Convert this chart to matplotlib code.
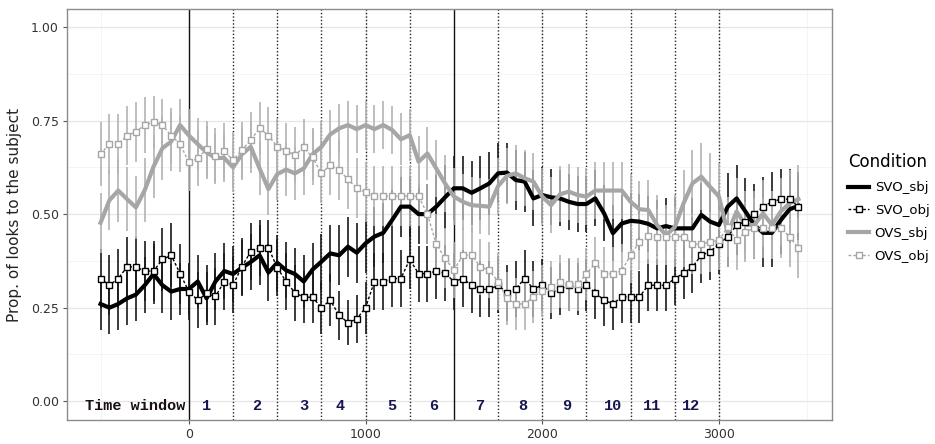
import matplotlib.pyplot as plt
import numpy as np
from matplotlib.lines import Line2D

# time bins (ms)
time = np.arange(-500, 3451, 50)

svo_sbj = [0.26, 0.25, 0.26, 0.275, 0.285, 0.31, 0.34, 0.31, 0.293, 0.30,
           0.30, 0.32, 0.275, 0.32, 0.348, 0.34, 0.357, 0.372, 0.39, 0.344,
           0.37, 0.35, 0.34, 0.32, 0.352, 0.373, 0.395, 0.39, 0.413, 0.397,
           0.422, 0.44, 0.45, 0.484, 0.52, 0.52, 0.50, 0.50, 0.52, 0.545,
           0.569, 0.569, 0.557, 0.569, 0.582, 0.609, 0.611, 0.591, 0.587, 0.542,
           0.551, 0.545, 0.542, 0.533, 0.527, 0.527, 0.542, 0.502, 0.449, 0.475,
           0.482, 0.48, 0.474, 0.462, 0.468, 0.462, 0.462, 0.462, 0.498, 0.48,
           0.471, 0.52, 0.542, 0.507, 0.471, 0.45, 0.45, 0.484, 0.513, 0.522]
svo_obj = [0.328, 0.31, 0.328, 0.359, 0.359, 0.348, 0.348, 0.379, 0.39, 0.341,
           0.293, 0.27, 0.288, 0.28, 0.32, 0.31, 0.36, 0.40, 0.41, 0.41,
           0.357, 0.32, 0.29, 0.278, 0.278, 0.25, 0.27, 0.23, 0.21, 0.22,
           0.25, 0.32, 0.32, 0.328, 0.328, 0.379, 0.341, 0.341, 0.348, 0.342,
           0.32, 0.328, 0.31, 0.299, 0.299, 0.31, 0.29, 0.30, 0.328, 0.30,
           0.31, 0.29, 0.30, 0.31, 0.30, 0.31, 0.29, 0.27, 0.26, 0.279,
           0.279, 0.279, 0.31, 0.31, 0.31, 0.328, 0.342, 0.359, 0.39, 0.40,
           0.42, 0.44, 0.471, 0.48, 0.50, 0.52, 0.533, 0.54, 0.54, 0.52]
ovs_sbj = [0.477, 0.537, 0.563, 0.54, 0.518, 0.564, 0.627, 0.676, 0.694, 0.738,
           0.71, 0.687, 0.665, 0.65, 0.65, 0.625, 0.66, 0.68, 0.622, 0.567,
           0.607, 0.619, 0.609, 0.622, 0.66, 0.68, 0.713, 0.729, 0.738, 0.727,
           0.738, 0.727, 0.738, 0.725, 0.70, 0.711, 0.64, 0.662, 0.622, 0.582,
           0.547, 0.533, 0.524, 0.522, 0.52, 0.575, 0.602, 0.609, 0.596, 0.587,
           0.547, 0.524, 0.553, 0.56, 0.551, 0.547, 0.563, 0.563, 0.563, 0.563,
           0.533, 0.513, 0.511, 0.471, 0.444, 0.465, 0.529, 0.582, 0.60, 0.573,
           0.547, 0.449, 0.507, 0.471, 0.471, 0.502, 0.471, 0.507, 0.529, 0.54]
ovs_obj = [0.66, 0.688, 0.688, 0.71, 0.72, 0.738, 0.746, 0.738, 0.709, 0.688,
           0.638, 0.649, 0.674, 0.656, 0.668, 0.644, 0.671, 0.698, 0.729, 0.71,
           0.68, 0.669, 0.658, 0.678, 0.652, 0.609, 0.631, 0.618, 0.593, 0.569,
           0.558, 0.548, 0.548, 0.548, 0.548, 0.548, 0.548, 0.50, 0.42, 0.382,
           0.35, 0.39, 0.39, 0.359, 0.35, 0.32, 0.275, 0.26, 0.26, 0.279,
           0.294, 0.305, 0.32, 0.312, 0.312, 0.34, 0.369, 0.341, 0.341, 0.349,
           0.39, 0.426, 0.441, 0.44, 0.44, 0.44, 0.44, 0.42, 0.42, 0.426,
           0.43, 0.466, 0.43, 0.453, 0.462, 0.462, 0.462, 0.462, 0.44, 0.409]

svo_sbj_se = [0.07, 0.07, 0.07, 0.07, 0.07, 0.075, 0.08, 0.075, 0.075, 0.07,
              0.07, 0.07, 0.07, 0.075, 0.075, 0.075, 0.075, 0.075, 0.08, 0.075,
              0.075, 0.075, 0.07, 0.07, 0.07, 0.075, 0.075, 0.08, 0.08, 0.08,
              0.08, 0.08, 0.08, 0.08, 0.08, 0.08, 0.08, 0.08, 0.085, 0.085,
              0.085, 0.085, 0.085, 0.085, 0.085, 0.08, 0.08, 0.08, 0.08, 0.075,
              0.075, 0.075, 0.075, 0.075, 0.075, 0.075, 0.075, 0.075, 0.075, 0.075,
              0.075, 0.075, 0.075, 0.075, 0.075, 0.08, 0.08, 0.08, 0.085, 0.085,
              0.09, 0.09, 0.09, 0.09, 0.09, 0.09, 0.09, 0.09, 0.09, 0.09]
svo_obj_se = [0.08, 0.08, 0.08, 0.08, 0.08, 0.08, 0.08, 0.085, 0.085, 0.08,
              0.075, 0.075, 0.075, 0.075, 0.075, 0.075, 0.075, 0.075, 0.075, 0.075,
              0.075, 0.075, 0.075, 0.07, 0.07, 0.07, 0.07, 0.065, 0.06, 0.065,
              0.07, 0.075, 0.075, 0.075, 0.075, 0.08, 0.075, 0.075, 0.075, 0.075,
              0.075, 0.075, 0.075, 0.075, 0.075, 0.075, 0.075, 0.075, 0.075, 0.075,
              0.07, 0.07, 0.07, 0.07, 0.07, 0.07, 0.07, 0.07, 0.07, 0.07,
              0.07, 0.07, 0.07, 0.07, 0.07, 0.07, 0.07, 0.07, 0.075, 0.075,
              0.08, 0.08, 0.08, 0.08, 0.08, 0.08, 0.08, 0.08, 0.08, 0.08]
ovs_sbj_se = [0.08, 0.08, 0.085, 0.085, 0.085, 0.085, 0.085, 0.085, 0.08, 0.07,
              0.07, 0.07, 0.07, 0.065, 0.065, 0.065, 0.07, 0.07, 0.07, 0.07,
              0.07, 0.07, 0.07, 0.07, 0.07, 0.07, 0.065, 0.065, 0.065, 0.065,
              0.065, 0.065, 0.065, 0.065, 0.07, 0.07, 0.07, 0.07, 0.075, 0.075,
              0.075, 0.075, 0.075, 0.075, 0.075, 0.075, 0.075, 0.075, 0.075, 0.075,
              0.075, 0.075, 0.075, 0.075, 0.075, 0.075, 0.075, 0.075, 0.075, 0.075,
              0.075, 0.075, 0.08, 0.08, 0.08, 0.085, 0.09, 0.09, 0.09, 0.09,
              0.09, 0.09, 0.09, 0.09, 0.09, 0.09, 0.09, 0.09, 0.09, 0.09]
ovs_obj_se = [0.085, 0.08, 0.08, 0.08, 0.08, 0.075, 0.07, 0.07, 0.075, 0.075,
              0.075, 0.075, 0.075, 0.075, 0.075, 0.075, 0.075, 0.075, 0.07, 0.075,
              0.075, 0.075, 0.075, 0.075, 0.075, 0.08, 0.08, 0.08, 0.08, 0.08,
              0.08, 0.08, 0.08, 0.08, 0.08, 0.08, 0.08, 0.08, 0.08, 0.08,
              0.075, 0.075, 0.075, 0.075, 0.075, 0.075, 0.07, 0.07, 0.07, 0.07,
              0.07, 0.07, 0.07, 0.07, 0.07, 0.07, 0.07, 0.07, 0.07, 0.07,
              0.075, 0.075, 0.075, 0.075, 0.075, 0.08, 0.08, 0.08, 0.08, 0.08,
              0.08, 0.08, 0.08, 0.08, 0.08, 0.08, 0.08, 0.08, 0.08, 0.08]

window_labels = ['1', '2', '3', '4', '5', '6', '7', '8', '9', '10', '11', '12']
window_pos = [100, 383, 648, 856, 1148, 1384, 1649, 1891, 2140, 2400, 2621, 2842]
solid_lines = [0, 1500]
dotted_lines = [250, 500, 750, 1000, 1250, 1750, 2000, 2250, 2500, 2750, 3000]

BLACK = '#000000'
GRAY = '#a6a6a6'

fig = plt.figure(figsize=(9.35, 4.44), dpi=100)
ax = fig.add_axes([67 / 935, 1 - 420 / 444, (832 - 67) / 935, (420 - 9) / 444])

# grid (ggplot theme_bw look)
ax.set_xlim(-690, 3640)
ax.set_ylim(-0.05, 1.048)
ax.set_xticks([0, 1000, 2000, 3000])
ax.set_xticks([-500, 500, 1500, 2500, 3500], minor=True)
ax.set_yticks([0, 0.25, 0.5, 0.75, 1.0])
ax.set_yticks([0.125, 0.375, 0.625, 0.875], minor=True)
ax.set_yticklabels(['0.00', '0.25', '0.50', '0.75', '1.00'])
ax.grid(which='major', color='#e6e6e6', lw=0.9)
ax.grid(which='minor', color='#f2f2f2', lw=0.6)
ax.set_axisbelow(True)
ax.tick_params(which='minor', length=0)
ax.tick_params(which='major', length=3, color='#555555', labelsize=9, labelcolor='#333333', pad=3)
for s in ax.spines.values():
    s.set_color('#8c8c8c')
    s.set_linewidth(1.0)

for v in solid_lines:
    ax.axvline(v, color='#111111', lw=1.0, zorder=1)
for v in dotted_lines:
    ax.axvline(v, color='#222222', lw=1.0, ls=(0, (1, 1.5)), zorder=1)

# error bars
ax.errorbar(time, svo_sbj, yerr=svo_sbj_se, fmt='none', ecolor='#1a1a1a', elinewidth=1.2, zorder=2)
ax.errorbar(time, svo_obj, yerr=svo_obj_se, fmt='none', ecolor='#1a1a1a', elinewidth=1.2, zorder=2)
ax.errorbar(time, ovs_sbj, yerr=ovs_sbj_se, fmt='none', ecolor='#b3b3b3', elinewidth=1.2, zorder=2)
ax.errorbar(time, ovs_obj, yerr=ovs_obj_se, fmt='none', ecolor='#b3b3b3', elinewidth=1.2, zorder=2)

# lines
ax.plot(time, svo_sbj, color=BLACK, lw=3.0, zorder=3)
ax.plot(time, svo_obj, color=BLACK, lw=1.0, ls=(0, (2, 1.5)), marker='s', ms=4.5,
        mfc='white', mec=BLACK, mew=1.0, zorder=4)
ax.plot(time, ovs_sbj, color=GRAY, lw=3.0, zorder=3)
ax.plot(time, ovs_obj, color=GRAY, lw=1.0, ls=(0, (2, 1.5)), marker='s', ms=4.5,
        mfc='white', mec=GRAY, mew=1.0, zorder=4)

# time window labels
ax.text(-303, -0.012, 'Time window', family='Liberation Mono', weight='bold',
        fontsize=11, color='#1a1010', ha='center', va='center', zorder=5)
for lab, xp in zip(window_labels, window_pos):
    ax.text(xp, -0.012, lab, family='Liberation Mono', weight='bold',
            fontsize=11, color='#16164f', ha='center', va='center', zorder=5)

ax.set_ylabel('Prop. of looks to the subject', fontsize=11, color='#222222', labelpad=6)

handles = [
    Line2D([], [], color=BLACK, lw=3.0),
    Line2D([], [], color=BLACK, lw=1.0, ls=(0, (2, 1.5)), marker='s', ms=4.5, mfc='white', mec=BLACK),
    Line2D([], [], color=GRAY, lw=3.0),
    Line2D([], [], color=GRAY, lw=1.0, ls=(0, (2, 1.5)), marker='s', ms=4.5, mfc='white', mec=GRAY),
]
labels = ['SVO_sbj', 'SVO_obj', 'OVS_sbj', 'OVS_obj']
leg = fig.legend(handles, labels, title='Condition', loc='upper left',
                 bbox_to_anchor=(843 / 935, 1 - 148 / 444), frameon=False,
                 fontsize=9.5, title_fontsize=12, handlelength=1.6, handletextpad=0.4,
                 labelspacing=0.75, borderaxespad=0)
leg._legend_box.align = 'left'

fig.savefig('out.png', dpi=100)
